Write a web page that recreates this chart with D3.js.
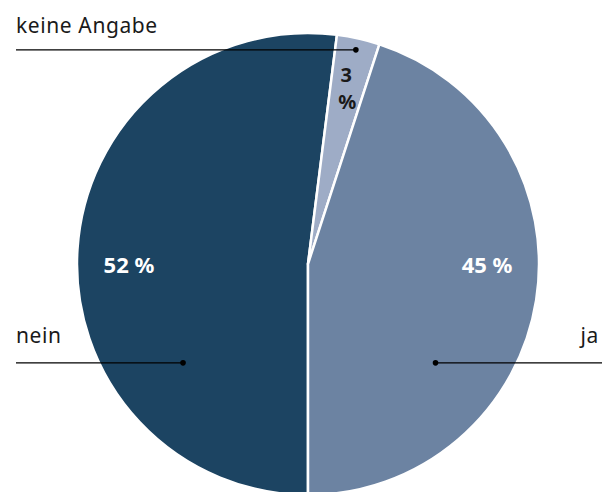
<!DOCTYPE html>
<html><head><meta charset="utf-8">
<script src="https://cdn.jsdelivr.net/npm/d3@7"></script>
<style>html,body{margin:0;padding:0;background:#fff;}svg{display:block;}</style>
</head><body>
<script>
const categories = ["nein", "keine Angabe", "ja"];
const values = [52, 3, 45];
const valueLabels = ["52 %", "3 %", "45 %"];
const colors = ["#1c4462", "#9eacc6", "#6c83a2"];

const W = 614, H = 492;
const cx = 308, cy = 264, R = 231;
const font = "'Noto Sans', 'Open Sans', sans-serif";
const ink = "#1a1a1a";

const svg = d3.select("body").append("svg").attr("width", W).attr("height", H);
const g = svg.append("g").attr("transform", `translate(${cx},${cy})`);

const pie = d3.pie().sort(null).value(d => d)
  .startAngle(Math.PI).endAngle(3 * Math.PI);
const arcs = pie(values);
const arc = d3.arc().innerRadius(0).outerRadius(R);

g.selectAll("path.slice").data(arcs).join("path")
  .attr("class", "slice")
  .attr("d", arc)
  .attr("fill", (d, i) => colors[i])
  .attr("stroke", "#fff").attr("stroke-width", 2.5).attr("stroke-linejoin", "round");

// percentage labels
const mid = d => (d.startAngle + d.endAngle) / 2;
arcs.forEach((d, i) => {
  if (values[i] >= 10) {
    const x = Math.sin(mid(d)) > 0 ? 0.775 * R : -0.775 * R;
    g.append("text").attr("x", x).attr("y", 9)
      .attr("text-anchor", "middle")
      .attr("font-family", font).attr("font-weight", 700).attr("font-size", 22)
      .attr("fill", "#fff").text(valueLabels[i]);
  } else {
    const a = mid(d), rr = 0.76 * R;
    const x = Math.sin(a) * rr, y = -Math.cos(a) * rr;
    const parts = valueLabels[i].split(" ");
    parts.forEach((p, k) => {
      g.append("text").attr("text-anchor", "middle")
        .attr("x", x + k).attr("y", y - 11 + k * 27.5)
        .attr("font-family", font).attr("font-weight", 700).attr("font-size", 20)
        .attr("fill", ink).text(p);
    });
  }
});

// callouts
function callout(i, dotX, dotY, lineEnd, labelX, anchor, dy) {
  const absDotX = cx + dotX, absDotY = cy + dotY;
  svg.append("line").attr("x1", lineEnd).attr("x2", absDotX)
    .attr("y1", absDotY).attr("y2", absDotY)
    .attr("stroke", "#000").attr("stroke-width", 1.3);
  svg.append("circle").attr("cx", absDotX).attr("cy", absDotY).attr("r", 2.8).attr("fill", "#000");
  svg.append("text").attr("x", labelX).attr("y", absDotY - dy)
    .attr("text-anchor", anchor)
    .attr("font-family", font).attr("font-size", 21).attr("letter-spacing", 0.6)
    .attr("fill", ink)
    .text(categories[i]);
}
// keine Angabe: dot near the outer edge of its slice
{
  const a = mid(arcs[1]), rr = 0.95 * R;
  callout(1, Math.sin(a) * rr, -Math.cos(a) * rr, 16, 16, "start", 17);
}
callout(0, -0.541 * R, 0.428 * R, 16, 16, "start", 20);
callout(2, 0.552 * R, 0.428 * R, 602, 599, "end", 20);
</script>
</body></html>
